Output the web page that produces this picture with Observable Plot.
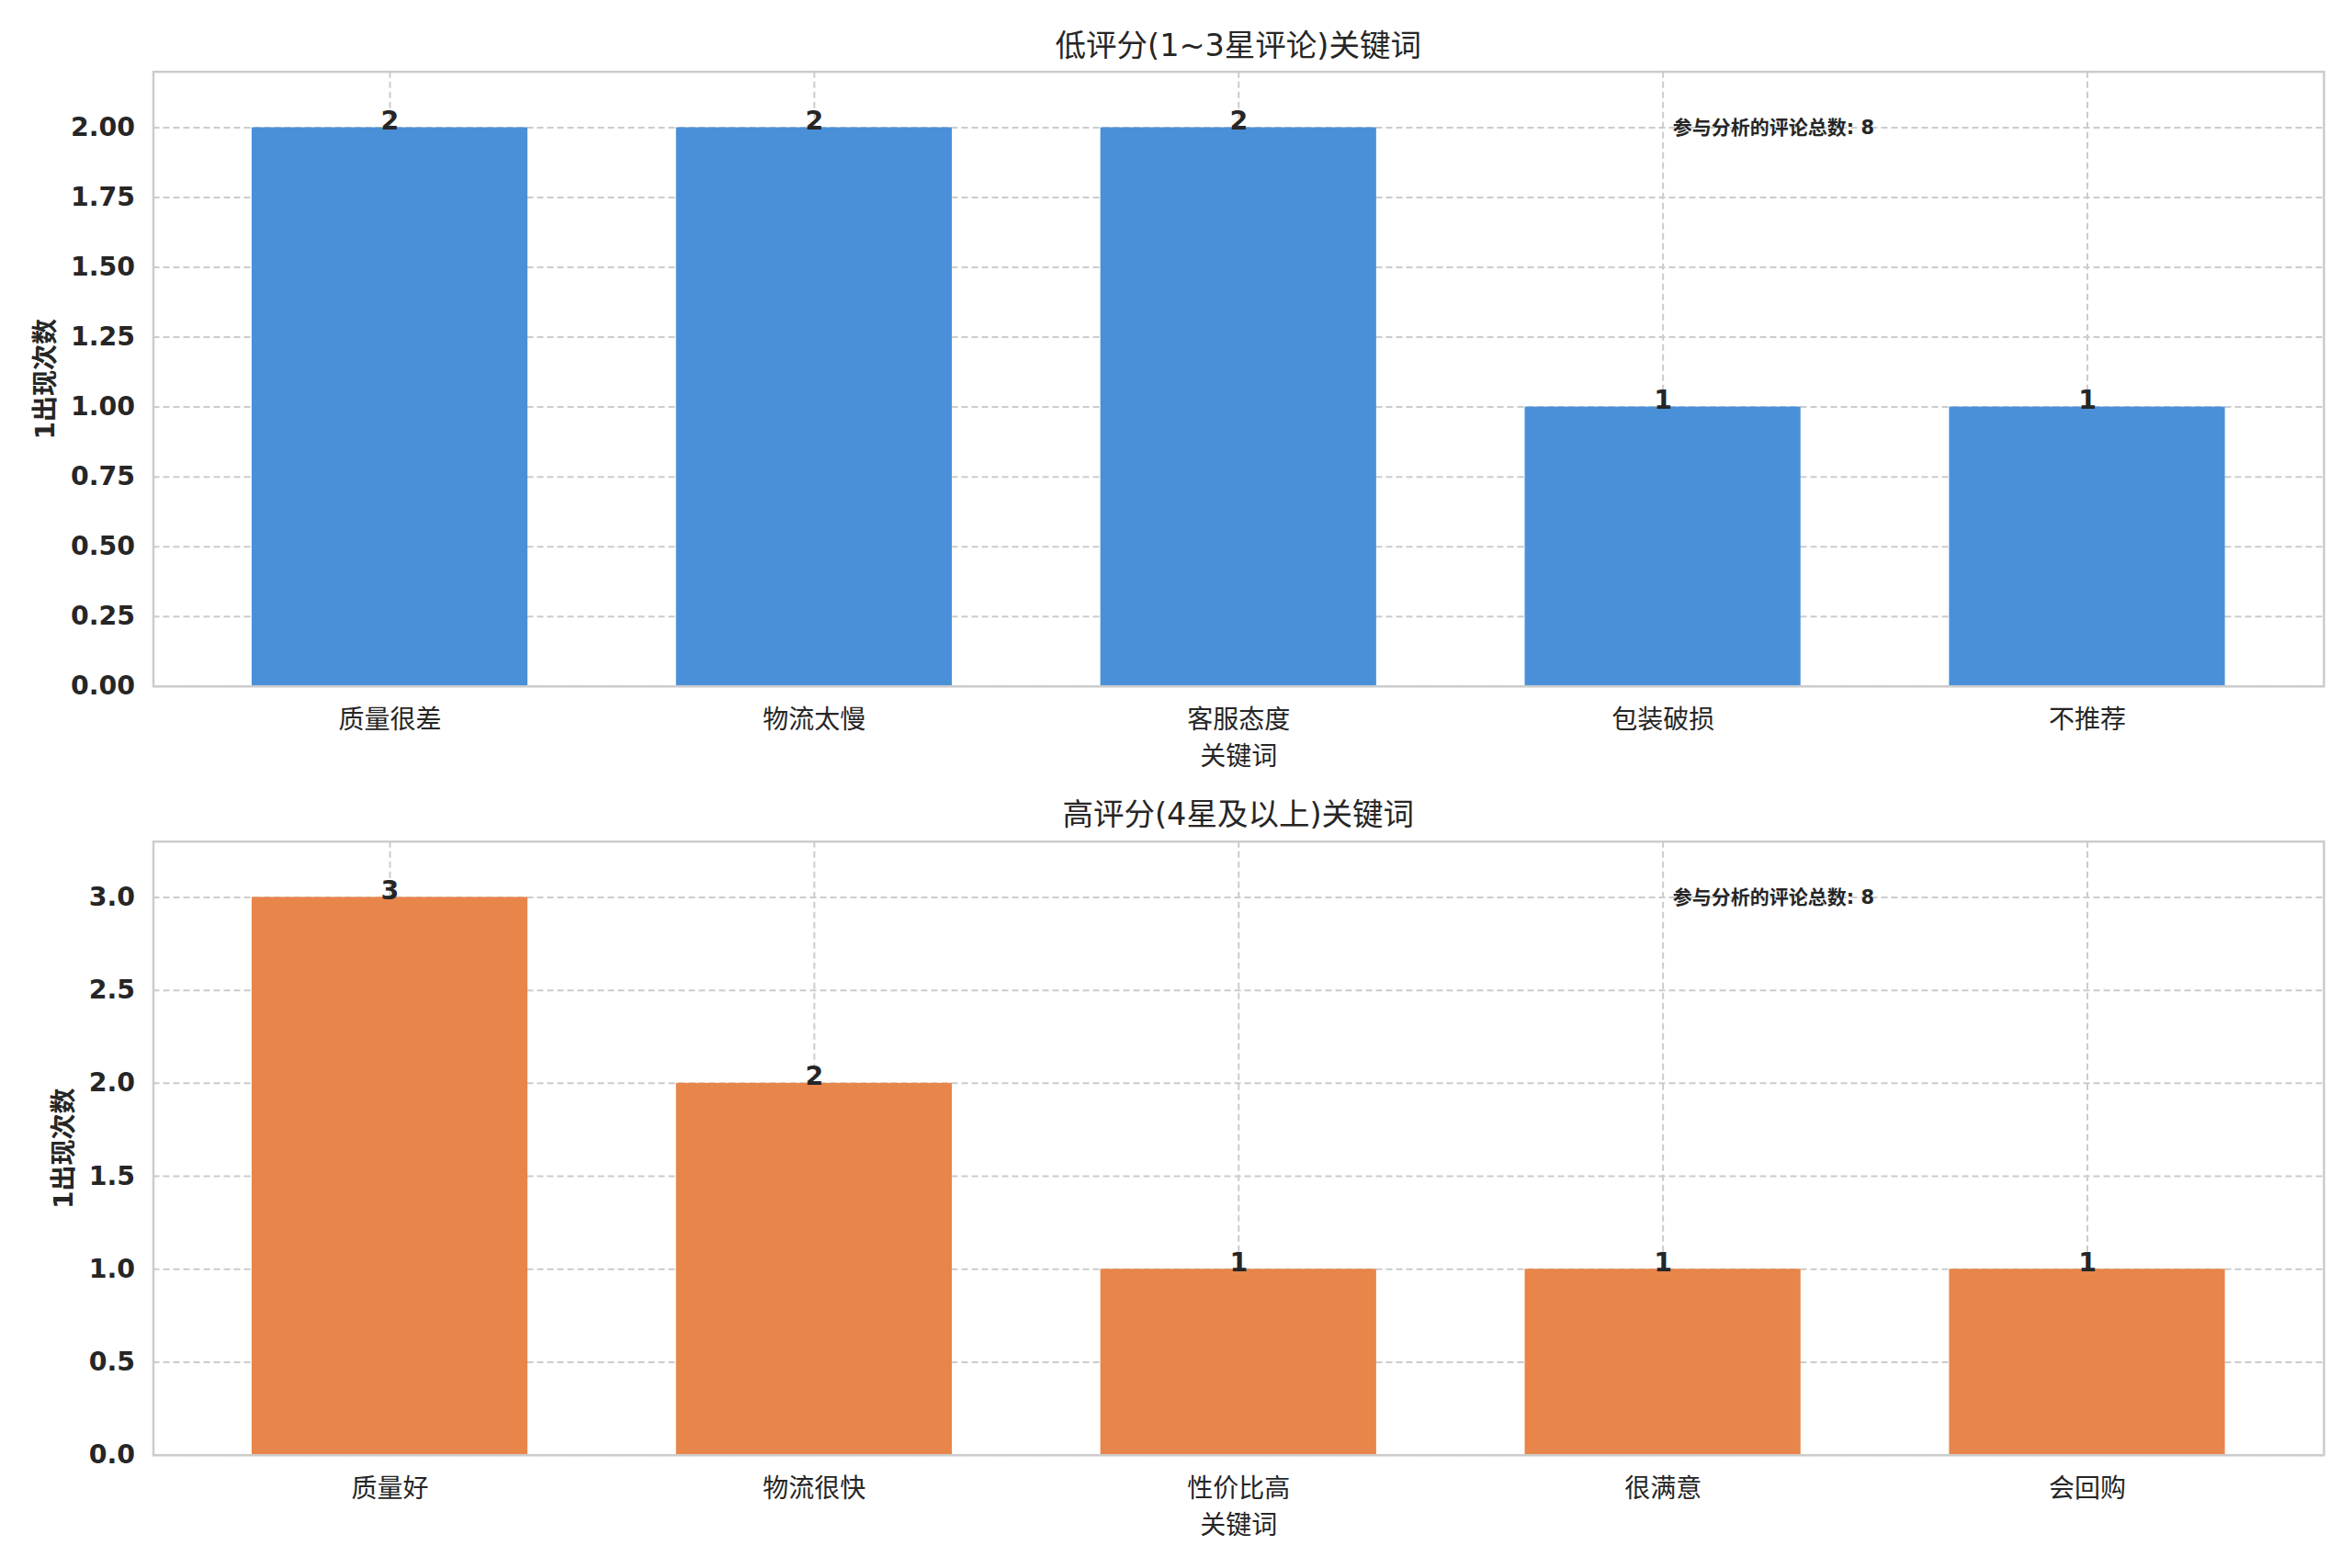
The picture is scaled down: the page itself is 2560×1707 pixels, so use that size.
<!DOCTYPE html>
<html>
<head>
<meta charset="utf-8">
<script src="https://cdn.jsdelivr.net/npm/d3@7"></script>
<script src="https://cdn.jsdelivr.net/npm/@observablehq/plot@0.6"></script>
<style>
  html, body { margin: 0; padding: 0; background: #fff; }
  #wrap { position: relative; width: 2560px; height: 1707px; overflow: hidden; font-family: "DejaVu Sans", "Noto Sans CJK SC", sans-serif; color: #262626; }
  .title { position: absolute; left: 166.5px; width: 2362.5px; text-align: center; font-size: 33.5px; line-height: 40px; color: #262626; }
  .panel { position: absolute; left: 0; }
</style>
</head>
<body>
<div id="wrap"></div>
<script>
// ---- data ----
const lowTitle = "低评分(1~3星评论)关键词";
const highTitle = "高评分(4星及以上)关键词";
const lowKeywords = ["质量很差", "物流太慢", "客服态度", "包装破损", "不推荐"];
const lowCounts = [2, 2, 2, 1, 1];
const highKeywords = ["质量好", "物流很快", "性价比高", "很满意", "会回购"];
const highCounts = [3, 2, 1, 1, 1];
const lowTicks = [0, 0.25, 0.5, 0.75, 1.0, 1.25, 1.5, 1.75, 2.0];
const highTicks = [0, 0.5, 1.0, 1.5, 2.0, 2.5, 3.0];
const xLabel = "关键词";
const yLabel = "1出现次数";
const totalLabel = "参与分析的评论总数";
const lowTotal = 8;
const highTotal = 8;

const FONT = "DejaVu Sans, Noto Sans CJK SC, sans-serif";

function panel({cats, counts, color, yMax, ticks, fmt, ylabDx, total, height, marginBottom}) {
  const data = cats.map((k, i) => ({k, v: counts[i]}));
  const grid = {stroke: "#cccccc", strokeOpacity: 1, strokeWidth: 2, strokeDasharray: "7,4"};
  return Plot.plot({
    width: 2560,
    height,
    marginLeft: 166.5,
    marginRight: 31,
    marginTop: 9.7,
    marginBottom,
    style: {fontFamily: FONT, color: "#262626", background: "white", overflow: "visible"},
    x: {type: "band", domain: cats, paddingInner: 0.35, paddingOuter: 0.2325, round: false, axis: null},
    y: {domain: [0, yMax], axis: null},
    marks: [
      Plot.gridY(ticks, grid),
      Plot.gridX(cats, grid),
      Plot.barY(data, {x: "k", y: "v", fill: color}),
      Plot.frame({stroke: "#cccccc", strokeWidth: 2.5}),
      Plot.axisY(ticks, {tickSize: 0, tickPadding: 20, tickFormat: fmt, fontSize: 28.4, fontWeight: "bold", fill: "#262626", label: null}),
      Plot.axisX(cats, {tickSize: 0, tickPadding: 26, fontSize: 28, fill: "#262626", label: null}),
      Plot.text(data, {x: "k", y: "v", text: d => String(d.v), lineAnchor: "bottom", dy: 2, fontSize: 28.4, fontWeight: "bold", fill: "#262626"}),
      Plot.text([xLabel], {frameAnchor: "bottom", text: d => d, dy: 77, lineAnchor: "middle", fontSize: 28, fill: "#262626"}),
      Plot.text([yLabel], {frameAnchor: "left", y: () => yMax / 2, text: d => d, rotate: -90, dx: ylabDx, lineAnchor: "middle", textAnchor: "middle", fontSize: 28, fontWeight: "bold", fill: "#262626"}),
      Plot.text([`${totalLabel}: ${total}`], {frameAnchor: "top-left", text: d => d, dx: 1653.75, dy: 61, textAnchor: "start", lineAnchor: "middle", fontSize: 21, fontWeight: "bold", fill: "#262626"})
    ]
  });
}

const wrap = document.getElementById("wrap");

const t1 = document.createElement("div");
t1.className = "title"; t1.style.top = "30px"; t1.textContent = lowTitle;
wrap.appendChild(t1);

const p1 = panel({cats: lowKeywords, counts: lowCounts, color: "#4a90d9", yMax: 2.2, ticks: lowTicks,
  fmt: d3.format(".2f"), ylabDx: -117, total: lowTotal, height: 790, marginBottom: 111.3});
p1.classList.add("panel"); p1.style.top = "68px";
wrap.appendChild(p1);

const t2 = document.createElement("div");
t2.className = "title"; t2.style.top = "867px"; t2.textContent = highTitle;
wrap.appendChild(t2);

const p2 = panel({cats: highKeywords, counts: highCounts, color: "#e8854a", yMax: 3.3, ticks: highTicks,
  fmt: d3.format(".1f"), ylabDx: -97, total: highTotal, height: 794, marginBottom: 116.3});
p2.classList.add("panel"); p2.style.top = "906.3px";
wrap.appendChild(p2);
</script>
</body>
</html>
